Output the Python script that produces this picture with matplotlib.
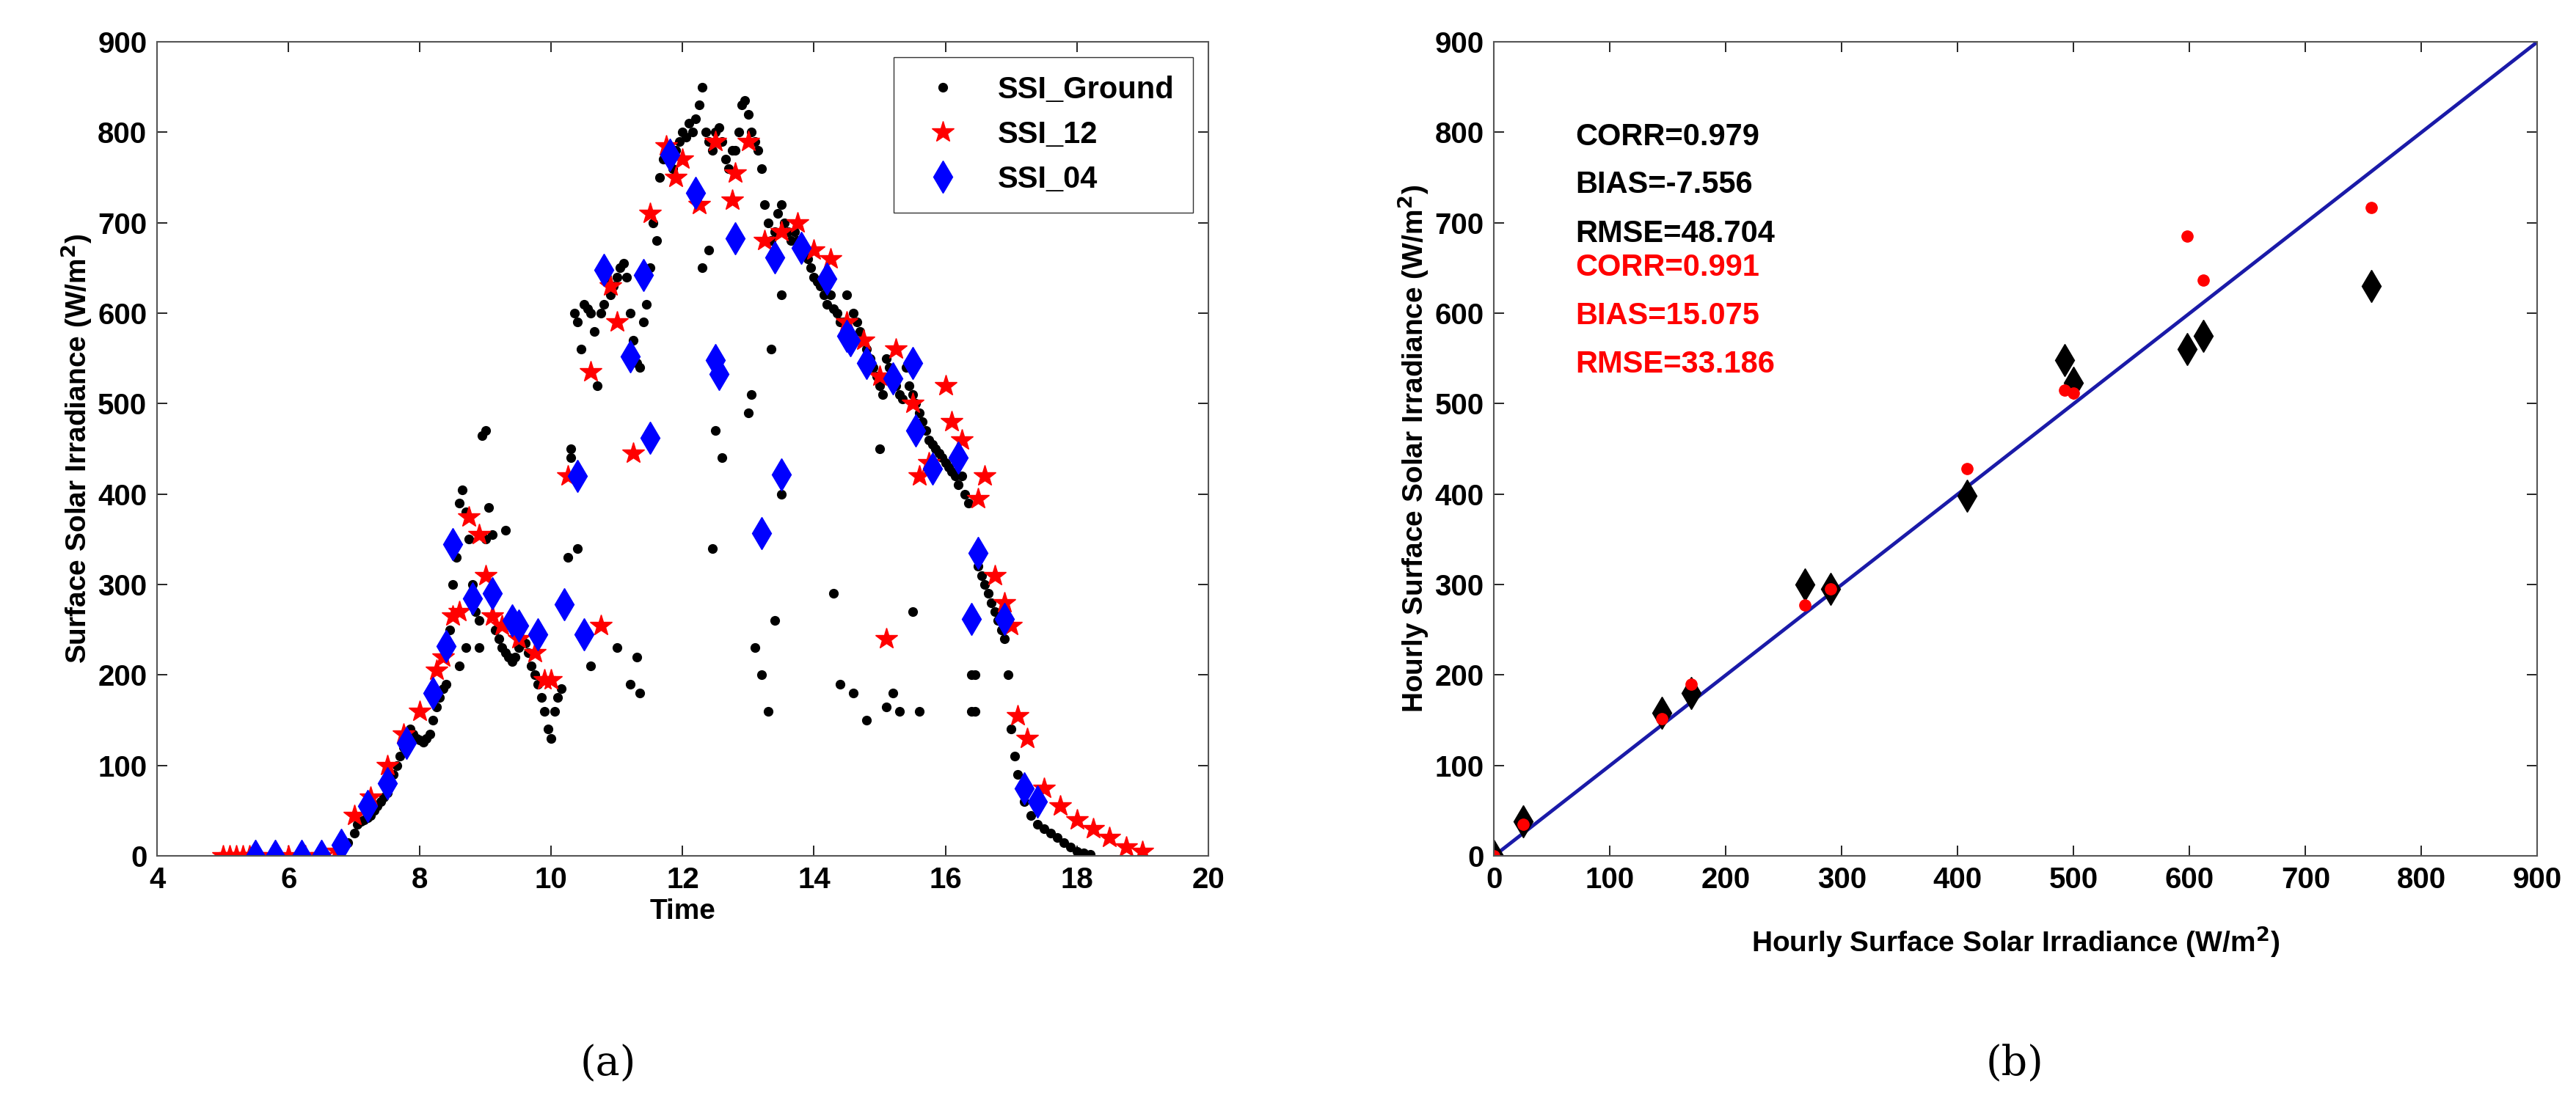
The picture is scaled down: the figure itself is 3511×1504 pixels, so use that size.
import numpy as np
import matplotlib.pyplot as plt

plt.rcParams['font.family'] = ['Liberation Sans', 'DejaVu Sans']
plt.rcParams['font.weight'] = 'bold'

# ground measurements (time in hours, SSI in W/m2)
ground_t = [6.9, 7.0, 7.05, 7.1, 7.15, 7.2, 7.25, 7.3, 7.35, 7.4, 7.45, 7.5, 7.55, 7.6, 7.65, 7.7,
            7.75, 7.8, 7.85, 7.9, 7.95, 8.0, 8.05, 8.1, 8.15, 8.2, 8.25, 8.3, 8.35, 8.4, 8.45, 8.5,
            8.55, 8.6, 8.65, 8.7, 8.75, 8.8, 8.85, 8.9, 8.95, 9.0, 9.05, 9.1, 9.15, 9.2, 9.25, 9.3,
            9.35, 9.4, 9.45, 9.5, 9.55, 9.6, 9.65, 9.7, 9.75, 9.8, 9.85, 9.9, 9.95, 10.0, 10.05, 10.1,
            10.15, 10.2, 10.25, 10.3, 10.35, 10.4, 10.45, 10.5, 10.55, 10.6, 10.65, 10.7, 10.75, 10.8,
            10.85, 10.9, 10.95, 11.0, 11.05, 11.1, 11.15, 11.2, 11.25, 11.3, 11.35, 11.4, 11.45, 11.5,
            11.55, 11.6, 11.65, 11.7, 11.75, 11.8, 11.85, 11.9, 11.95, 12.0, 12.05, 12.1, 12.15, 12.2,
            12.25, 12.3, 12.35, 12.4, 12.45, 12.5, 12.55, 12.6, 12.65, 12.7, 12.75, 12.8, 12.85, 12.9,
            12.95, 13.0, 13.05, 13.1, 13.15, 13.2, 13.25, 13.3, 13.35, 13.4, 13.45, 13.5, 13.55, 13.6,
            13.65, 13.7, 13.75, 13.8, 13.85, 13.9, 13.95, 14.0, 14.05, 14.1, 14.15, 14.2, 14.25, 14.3,
            14.35, 14.4, 14.45, 14.5, 14.55, 14.6, 14.65, 14.7, 14.75, 14.8, 14.85, 14.9, 14.95, 15.0,
            15.05, 15.1, 15.15, 15.2, 15.25, 15.3, 15.35, 15.4, 15.45, 15.5, 15.55, 15.6, 15.65, 15.7,
            15.75, 15.8, 15.85, 15.9, 15.95, 16.0, 16.05, 16.1, 16.15, 16.2, 16.25, 16.3, 16.35, 16.4,
            16.45, 16.5, 16.55, 16.6, 16.65, 16.7, 16.75, 16.8, 16.85, 16.9, 16.95, 17.0, 17.05, 17.1,
            17.15, 17.2, 17.3, 17.4, 17.5, 17.6, 17.7, 17.8, 17.9, 18.0, 18.1, 18.2,
            8.6, 8.7, 8.9, 9.0, 9.3, 10.3, 10.4, 10.6, 11.0, 11.2, 11.3, 11.35, 12.4, 12.5, 12.6,
            13.1, 13.2, 13.3, 13.4, 13.5, 14.3, 14.4, 14.6, 14.8, 15.1, 15.2, 15.3, 15.6, 16.4, 16.45,
            12.3, 12.45, 13.0, 13.05, 13.35, 13.5, 14.5, 15.0, 15.5]
ground_v = [15, 25, 35, 38, 40, 42, 45, 50, 55, 60, 65, 70, 80, 90, 100, 110,
            120, 130, 140, 135, 130, 128, 126, 130, 135, 150, 165, 175, 185, 190, 250, 300,
            330, 390, 405, 380, 350, 300, 270, 260, 465, 470, 385, 355, 250, 240, 230, 225,
            220, 215, 220, 230, 240, 235, 225, 210, 200, 190, 175, 160, 140, 130, 160, 175,
            185, 280, 330, 440, 600, 590, 560, 610, 605, 600, 580, 520, 600, 610,
            640, 620, 630, 640, 650, 655, 640, 600, 570, 545, 540, 590, 610, 650,
            700, 680, 750, 770, 780, 770, 760, 780, 790, 800, 795, 810, 800, 815,
            830, 850, 800, 790, 780, 800, 805, 790, 770, 760, 780, 780, 800, 830,
            835, 820, 800, 790, 780, 760, 720, 700, 680, 690, 710, 720, 700, 690,
            680, 690, 680, 670, 665, 660, 650, 640, 635, 630, 620, 610, 620, 605,
            600, 590, 590, 580, 575, 600, 590, 580, 570, 560, 550, 540, 530, 520,
            510, 550, 540, 530, 520, 510, 505, 540, 520, 510, 500, 490, 480, 470,
            460, 455, 450, 445, 440, 435, 430, 425, 420, 410, 420, 400, 390, 160,
            200, 320, 310, 300, 290, 280, 270, 260, 250, 240, 200, 140, 110, 90,
            75, 60, 45, 35, 30, 25, 20, 15, 10, 5, 3, 2,
            210, 230, 230, 350, 360, 450, 340, 210, 230, 190, 220, 180, 670, 470, 440,
            230, 200, 160, 260, 400, 290, 190, 180, 150, 165, 180, 160, 160, 200, 160,
            650, 340, 490, 510, 560, 620, 620, 450, 270]

s12_t = [5.0, 5.1, 5.2, 5.3, 5.4, 5.5, 5.75, 6.0, 6.25, 6.5, 6.75, 7.0, 7.25, 7.5, 7.75, 8.0,
         8.25, 8.35, 8.5, 8.6, 8.75, 8.9, 9.0, 9.1, 9.25, 9.5, 9.75, 9.9, 10.0, 10.25, 10.6,
         10.75, 10.9, 11.0, 11.25, 11.5, 11.75, 11.9, 12.0, 12.25, 12.5, 12.75, 12.8, 13.0,
         13.25, 13.5, 13.75, 14.0, 14.25, 14.5, 14.75, 15.0, 15.1, 15.25, 15.5, 15.6, 15.75,
         16.0, 16.1, 16.25, 16.5, 16.6, 16.75, 16.9, 17.0, 17.1, 17.25, 17.5, 17.75, 18.0,
         18.25, 18.5, 18.75, 19.0]
s12_v = [0, 0, 0, 0, 0, 0, 0, 0, 0, 0, 5, 45, 65, 100, 135, 160,
         205, 220, 265, 270, 375, 355, 310, 265, 255, 240, 225, 195, 195, 420, 535,
         255, 630, 590, 445, 710, 785, 750, 770, 720, 790, 725, 755, 790,
         680, 690, 700, 670, 660, 590, 570, 530, 240, 560, 500, 420, 435,
         520, 480, 460, 395, 420, 310, 280, 255, 155, 130, 75, 55, 40, 30, 20, 10, 5]

s04_t = [5.5, 5.8, 6.2, 6.5, 6.8, 7.2, 7.5, 7.8, 8.2, 8.4, 8.5, 8.8, 9.1, 9.4, 9.5, 9.8,
         10.2, 10.4, 10.5, 10.8, 11.2, 11.4, 11.5, 11.8, 12.2, 12.5, 12.55, 12.8, 13.2, 13.4,
         13.5, 13.8, 14.2, 14.5, 14.55, 14.8, 15.2, 15.5, 15.55, 15.8, 16.2, 16.4, 16.5, 16.9,
         17.2, 17.4]
s04_v = [0, 0, 0, 0, 12, 55, 80, 125, 180, 232, 345, 285, 290, 260, 255, 245,
         278, 420, 245, 648, 552, 642, 462, 775, 733, 548, 533, 683, 357, 662,
         422, 672, 638, 575, 570, 545, 528, 545, 470, 428, 440, 262, 335, 262,
         75, 60]

# hourly scatter
obs = [0, 25, 145, 170, 268, 290, 408, 492, 500, 598, 612, 757]
est_04 = [0, 38, 158, 180, 300, 295, 398, 548, 523, 560, 575, 630]
est_12 = [0, 35, 152, 190, 277, 295, 428, 515, 512, 685, 637, 717]

fig = plt.figure(figsize=(35.11, 15.04), dpi=100)
ax1 = fig.add_axes([0.061, 0.224, 0.408, 0.738])
ax2 = fig.add_axes([0.580, 0.224, 0.405, 0.738])

ax1.plot(ground_t, ground_v, 'k.', markersize=17, label='SSI_Ground')
ax1.plot(s12_t, s12_v, 'r*', markersize=22, label='SSI_12')
ax1.plot(s04_t, s04_v, 'bd', markersize=22, label='SSI_04')
ax1.set_xlim(4, 20)
ax1.set_ylim(0, 900)
ax1.set_xticks(range(4, 21, 2))
ax1.set_yticks(range(0, 901, 100))
ax1.set_xlabel('Time', fontsize=28, fontweight='bold', labelpad=4)
ax1.set_ylabel('Surface Solar Irradiance (W/m$^\\mathbf{2}$)', fontsize=28, fontweight='bold')
ax1.legend(loc='upper right', fontsize=30, fancybox=False, edgecolor='k',
           handletextpad=0.8, borderpad=0.6)

ax2.plot([0, 900], [0, 900], color='#1a1aa8', linewidth=3.5)
ax2.plot(obs, est_04, 'kd', markersize=22)
ax2.plot(obs, est_12, 'r.', markersize=22)
ax2.set_xlim(0, 900)
ax2.set_ylim(0, 900)
ax2.set_xticks(range(0, 901, 100))
ax2.set_yticks(range(0, 901, 100))
ax2.set_xlabel('Hourly Surface Solar Irradiance (W/m$^\\mathbf{2}$)', fontsize=28, fontweight='bold',
               labelpad=30)
ax2.set_ylabel('Hourly Surface Solar Irradiance (W/m$^\\mathbf{2}$)', fontsize=28, fontweight='bold')
stats = [('CORR=0.979', 'k'), ('BIAS=-7.556', 'k'), ('RMSE=48.704', 'k'),
         ('CORR=0.991', 'r'), ('BIAS=15.075', 'r'), ('RMSE=33.186', 'r')]
ys = [795, 742, 688, 650, 597, 543]
for (s, c), y in zip(stats, ys):
    ax2.text(70, y, s, color=c, fontsize=30, fontweight='bold', va='center')

for ax in (ax1, ax2):
    ax.tick_params(direction='in', length=10, width=1.2, labelsize=29, top=True, right=True, pad=10)
    for sp in ax.spines.values():
        sp.set_color('#555555')
        sp.set_linewidth(1.5)

fig.text(0.236, 0.025, '(a)', fontsize=40, family='DejaVu Serif', fontweight='normal', ha='center')
fig.text(0.782, 0.025, '(b)', fontsize=40, family='DejaVu Serif', fontweight='normal', ha='center')

fig.savefig('out.png', dpi=100, facecolor='white')
